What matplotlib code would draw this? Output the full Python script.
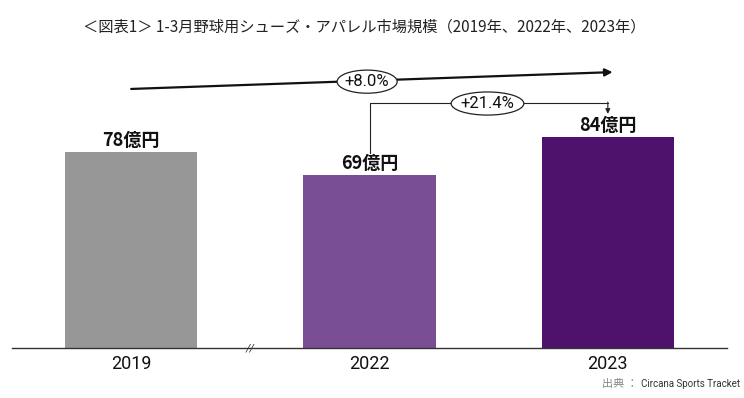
import matplotlib
matplotlib.use('Agg')
import matplotlib.pyplot as plt
from matplotlib.patches import Ellipse

plt.rcParams['font.family'] = ['Noto Sans CJK JP', 'DejaVu Sans']

# データ
years = ['2019', '2022', '2023']
sales = [78, 69, 84]   # 億円
value_labels = ['78億円', '69億円', '84億円']
bar_colors = ['#979797', '#7A4E94', '#4E126C']
growth_labels = ['+8.0%', '+21.4%']
title = '＜図表1＞ 1-3月野球用シューズ・アパレル市場規模（2019年、2022年、2023年）'

fig = plt.figure(figsize=(7.44, 3.98), dpi=100)
ax = fig.add_axes([12/744, 50/398, 715/744, 348/398])

x = list(range(len(years)))
ax.bar(x, sales, width=0.555, color=bar_colors, zorder=2)

for xi, v, lab in zip(x, sales, value_labels):
    ax.annotate(lab, (xi, v), xytext=(0, 4), textcoords='offset points',
                ha='center', va='baseline', fontsize=13, fontweight='bold', color='#111111')

ax.set_xlim(-0.5, 2.5)
ax.set_ylim(0, 138.5)
ax.set_xticks(x)
ax.set_xticklabels(years, family='Roboto', fontsize=13, color='#111111')
ax.tick_params(axis='x', length=0, pad=5)
ax.set_yticks([])
for s in ['top', 'left', 'right']:
    ax.spines[s].set_visible(False)
ax.spines['bottom'].set_color('#333333')
ax.spines['bottom'].set_linewidth(1.0)

# 軸の省略記号
ax.text(0.5, 0, '//', ha='center', va='center', fontsize=8, family='Roboto',
        color='#333333', style='italic', zorder=3)

# 2019→2023 の矢印
ax.annotate('', xy=(2.02, 109.8), xytext=(0, 103.1),
            arrowprops=dict(arrowstyle='-|>', lw=1.6, color='#111111', mutation_scale=11,
                            shrinkA=0, shrinkB=0))
ax.add_patch(Ellipse((0.99, 106.0), 0.252, 9.2, facecolor='white', edgecolor='#222222',
                     lw=0.9, zorder=4))
ax.text(0.99, 106.0, growth_labels[0], ha='center', va='center', family='Roboto',
        fontsize=12, color='#111111', zorder=5)

# 2022→2023 の矢印
ax.plot([1, 1, 2], [77.6, 97.5, 97.5], color='#222222', lw=0.8)
ax.annotate('', xy=(2, 93.2), xytext=(2, 97.9),
            arrowprops=dict(arrowstyle='-|>', lw=0.8, color='#222222', mutation_scale=7,
                            shrinkA=0, shrinkB=0))
ax.add_patch(Ellipse((1.495, 97.3), 0.305, 9.2, facecolor='white', edgecolor='#222222',
                     lw=0.9, zorder=4))
ax.text(1.495, 97.3, growth_labels[1], ha='center', va='center', family='Roboto',
        fontsize=12, color='#111111', zorder=5)

fig.text(364/744, 1 - 27/398, title, ha='center', va='center', fontsize=11, color='#222222')
fig.text(638/744, 1 - 384/398, '出典 ：', ha='right', va='center', fontsize=8, color='#888888')
fig.text(740/744, 1 - 384/398, 'Circana Sports Tracket', ha='right', va='center',
         family='Roboto', fontsize=7, color='#333333')

fig.savefig('out.png', dpi=100)
